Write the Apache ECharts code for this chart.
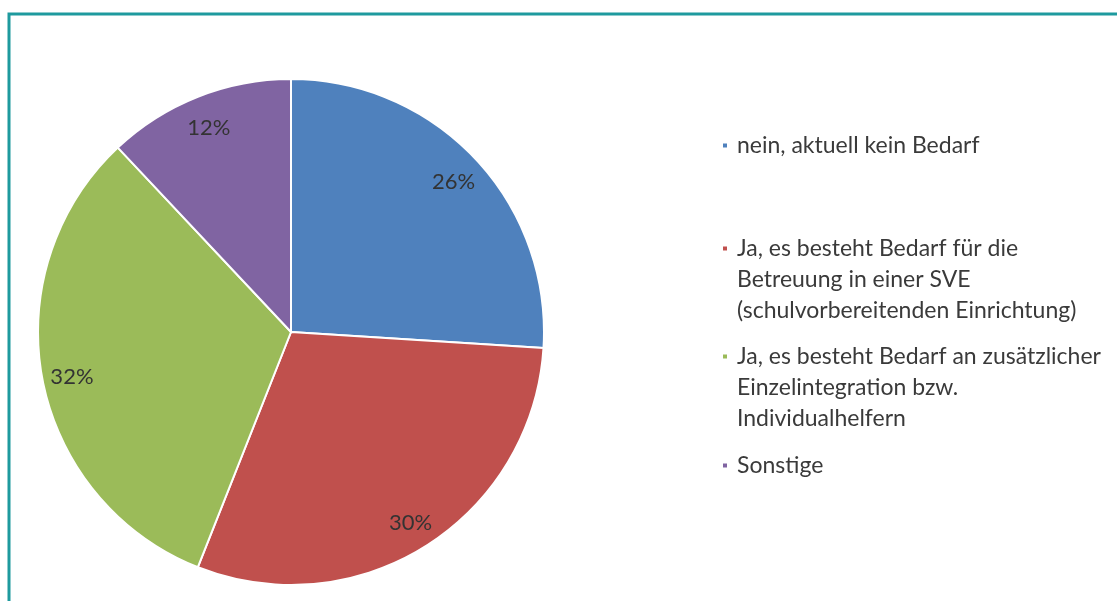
<!DOCTYPE html>
<html>
<head>
<meta charset="utf-8">
<script src="https://cdn.jsdelivr.net/npm/echarts@6/dist/echarts.min.js"></script>
<style>
  html, body { margin: 0; padding: 0; background: #fff; }
  #chart { width: 1117px; height: 601px; }
</style>
</head>
<body>
<div id="chart"></div>
<script>
// Antworten und Anteile (%)
const categories = [
  'nein, aktuell kein Bedarf',
  'Ja, es besteht Bedarf für die\nBetreuung in einer SVE\n(schulvorbereitenden Einrichtung)',
  'Ja, es besteht Bedarf an zusätzlicher\nEinzelintegration bzw.\nIndividualhelfern',
  'Sonstige'
];
const values = [26, 30, 32, 12];
const colors = ['#4f81bd', '#c0504d', '#9bbb59', '#8064a2'];
const legendTops = [130, 171, 279, 450];

const FONT = 'Lato, "Open Sans", sans-serif';
const pieData = categories.map((name, i) => ({ name, value: values[i], itemStyle: { color: colors[i] } }));

const chart = echarts.init(document.getElementById('chart'));

// eine Legende pro Eintrag, damit die Abstände wie im Original sind
const legends = categories.map((name, i) => ({
  data: [name],
  orient: 'vertical',
  left: 721,
  top: legendTops[i],
  padding: 0,
  icon: 'rect',
  itemWidth: 6,
  itemHeight: 6,
  selectedMode: false,
  // Marker an der ersten Zeile ausrichten: Leerzeilen davor
  formatter: n => {
    const lines = n.split('\n').length;
    return '\n'.repeat(lines - 1) + n;
  },
  textStyle: {
    fontFamily: FONT, fontSize: 23, color: '#3a3a3a',
    lineHeight: 31, padding: [0, 0, 0, 4]
  }
}));

chart.setOption({
  backgroundColor: '#fff',
  animation: false,
  graphic: [{
    type: 'rect', silent: true,
    shape: { x: 9, y: 14, width: 1200, height: 700 },
    style: { fill: 'none', stroke: '#1e9a9e', lineWidth: 3 }
  }],
  legend: legends,
  series: [
    {
      name: 'Bedarf', type: 'pie',
      center: [291, 332], radius: [0, 253],
      startAngle: 90, clockwise: true,
      data: pieData,
      label: { show: false }, labelLine: { show: false },
      itemStyle: { borderColor: '#fff', borderWidth: 2 },
      emphasis: { disabled: true }
    },
    {
      // unsichtbarer Ring nur für die Beschriftungen weiter außen
      name: 'Labels', type: 'pie',
      center: [291, 332], radius: [187, 253],
      startAngle: 90, clockwise: true, silent: true,
      data: pieData.map(d => ({ name: d.name, value: d.value, itemStyle: { color: 'transparent' } })),
      label: {
        show: true, position: 'inside',
        formatter: p => p.value + '%',
        fontFamily: FONT, fontSize: 22, color: '#333',
        offset: [0, 3]
      },
      labelLine: { show: false },
      emphasis: { disabled: true }
    }
  ]
});
</script>
</body>
</html>
